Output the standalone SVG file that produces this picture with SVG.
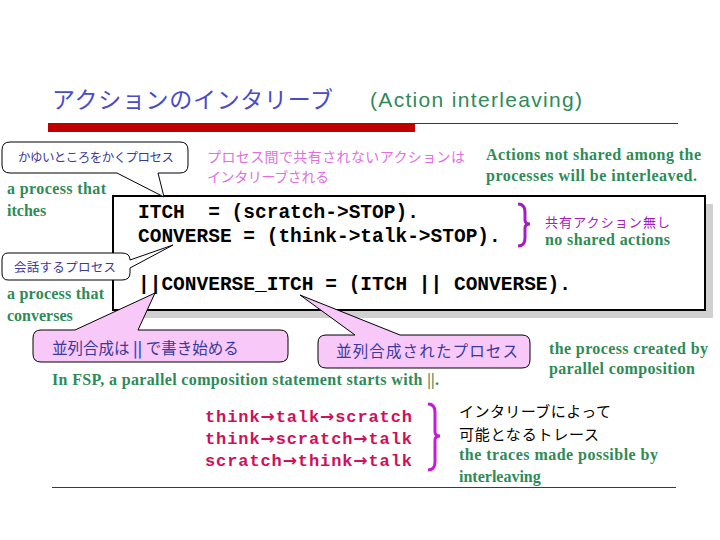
<svg xmlns="http://www.w3.org/2000/svg" width="720" height="540" viewBox="0 0 720 540">
<style>
.jp{font-family:"Noto Sans CJK JP","Noto Sans",sans-serif}
.gr{font-family:"Liberation Serif",serif;fill:#2e8b57;font-size:16px;font-weight:bold}
.code{font-family:"Liberation Mono",monospace;font-weight:bold;font-size:19.5px;fill:#000}
.tr{font-family:"Liberation Mono",monospace;font-weight:bold;font-size:17px;fill:#d0105a}
.ar{font-family:"DejaVu Sans",sans-serif;font-weight:bold}
.wc{fill:#fff;stroke:#000;stroke-width:1}
.pc{fill:#f8c8f8;stroke:#000;stroke-width:1}
</style>
<rect width="720" height="540" fill="#fff"/>
<g id="title">
<text x="52" y="108" class="jp" font-size="23" fill="#4a4acc" textLength="281">アクションのインタリーブ</text>
<text x="370" y="107" font-family="Liberation Sans,sans-serif" font-size="21" fill="#2e8b57" textLength="212">(Action interleaving)</text>
<line x1="48" y1="123.5" x2="678" y2="123.5" stroke="#c00000" stroke-width="1"/>
<rect x="48" y="123" width="367" height="9" fill="#c00000"/>
</g>
<g id="codebox">
<rect x="121" y="204" width="592" height="114" fill="#d0d0d0"/>
<rect x="113" y="196" width="592" height="114" fill="#fff" stroke="#000" stroke-width="2"/>
<text x="138" y="218" class="code" xml:space="preserve">ITCH  = (scratch-&gt;STOP).</text>
<text x="138" y="242" class="code">CONVERSE = (think-&gt;talk-&gt;STOP).</text>
<text x="138" y="290" class="code">||CONVERSE_ITCH = (ITCH || CONVERSE).</text>
</g>
<g id="connectors" fill="none">
<path d="M518,204 Q525,204 525,212 L525,220 Q525,224 530,224 Q525,224 525,228 L525,238 Q525,246 518,246" stroke="#a020c0" stroke-width="3"/>
<path d="M428,404 Q435,404 435,412 L435,432 Q435,436 440,436 Q435,436 435,440 L435,462 Q435,470 428,470" stroke="#c020d0" stroke-width="3"/>
</g>
<g id="callout-itch">
<path class="wc" d="M10,142 H180 Q188,142 188,150 V165 Q188,173 180,173 H158 L164,197 L117,173 H10 Q2,173 2,165 V150 Q2,142 10,142 Z"/>
<text x="18" y="162" class="jp" font-size="12.5" fill="#3a3a9a" textLength="156">かゆいところをかくプロセス</text>
</g>
<g id="callout-converse">
<path class="wc" d="M8,253 H122 Q130,253 130,260 L173,245 L130,268 V273 Q130,280 122,280 H8 Q2,280 2,273 V260 Q2,253 8,253 Z"/>
<text x="14" y="272" class="jp" font-size="12.5" fill="#3a3a9a" textLength="102">会話するプロセス</text>
</g>
<g id="callout-par">
<path class="pc" d="M41,330 H75 L155,293 L138,330 H280 Q288,330 288,338 V354 Q288,362 280,362 H41 Q33,362 33,354 V338 Q33,330 41,330 Z"/>
<text x="52" y="354" class="jp" font-size="15.5" fill="#3a3a9a">並列合成は <tspan fill="#3050d0" font-weight="bold">||</tspan> で書き始める</text>
</g>
<g id="callout-created">
<path class="pc" d="M326,335 H355 L300,295 L400,335 H522 Q530,335 530,343 V360 Q530,368 522,368 H326 Q318,368 318,360 V343 Q318,335 326,335 Z"/>
<text x="336" y="357" class="jp" font-size="15.5" fill="#3a3a9a" textLength="182">並列合成されたプロセス</text>
</g>
<g id="labels">
<text x="207" y="162" class="jp" font-size="14" fill="#e070e0" textLength="258">プロセス間で共有されないアクションは</text>
<text x="207" y="182" class="jp" font-size="14" fill="#e070e0" textLength="122">インタリーブされる</text>
<text x="486" y="160" class="gr" textLength="215">Actions not shared among the</text>
<text x="486" y="181" class="gr" textLength="211">processes will be interleaved.</text>
<text x="7" y="194" class="gr" textLength="99">a process that</text>
<text x="7" y="216" class="gr">itches</text>
<text x="7" y="299" class="gr" textLength="97">a process that</text>
<text x="7" y="321" class="gr">converses</text>
<text x="545" y="227" class="jp" font-size="13" fill="#a020c0" textLength="125">共有アクション無し</text>
<text x="545" y="245" class="gr" textLength="125">no shared actions</text>
<text x="549" y="354" class="gr" textLength="159">the process created by</text>
<text x="549" y="374" class="gr" textLength="146">parallel composition</text>
<text x="52" y="385" class="gr" textLength="387">In FSP, a parallel composition statement starts with ||.</text>
<text x="459" y="417" class="jp" font-size="15" fill="#000" textLength="152">インタリーブによって</text>
<text x="459" y="440" class="jp" font-size="15" fill="#000" textLength="140">可能となるトレース</text>
<text x="459" y="460" class="gr" textLength="199">the traces made possible by</text>
<text x="459" y="482" class="gr">interleaving</text>
</g>
<g id="traces">
<text x="205" y="422" class="tr" textLength="207">think<tspan class="ar">→</tspan>talk<tspan class="ar">→</tspan>scratch</text>
<text x="205" y="444" class="tr" textLength="207">think<tspan class="ar">→</tspan>scratch<tspan class="ar">→</tspan>talk</text>
<text x="205" y="466" class="tr" textLength="207">scratch<tspan class="ar">→</tspan>think<tspan class="ar">→</tspan>talk</text>
</g>
<line x1="52" y1="487.5" x2="676" y2="487.5" stroke="#8b1a1a" stroke-width="1"/>
</svg>
